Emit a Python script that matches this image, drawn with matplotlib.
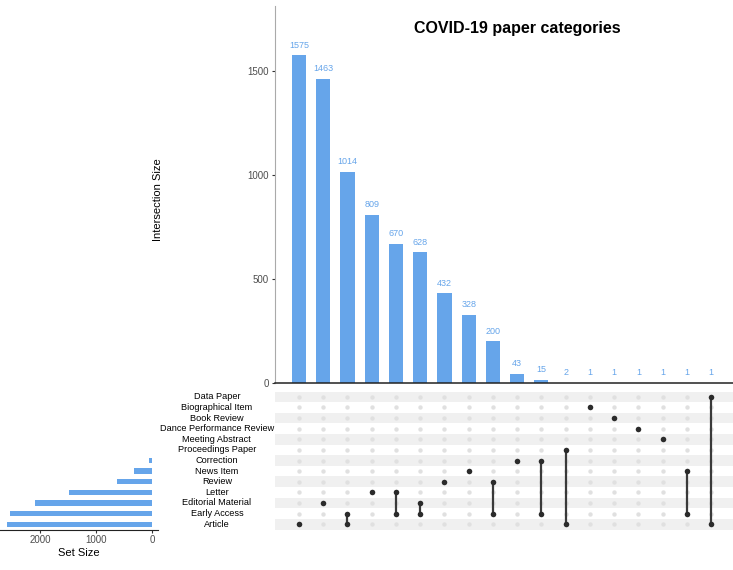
import matplotlib
matplotlib.use("Agg")
import matplotlib.pyplot as plt

plt.rcParams['font.family'] = ['Liberation Sans', 'DejaVu Sans']

# set names, top row first
set_names = ["Data Paper", "Biographical Item", "Book Review", "Dance Performance Review",
             "Meeting Abstract", "Proceedings Paper", "Correction", "News Item", "Review",
             "Letter", "Editorial Material", "Early Access", "Article"]
set_sizes = [1, 1, 1, 1, 1, 2, 58, 329, 632, 1479, 2091, 2528, 2592]

# intersections, in plotted order
inter_sizes = [1575, 1463, 1014, 809, 670, 628, 432, 328, 200, 43, 15, 2, 1, 1, 1, 1, 1, 1]
inter_sets = [
    ["Article"],
    ["Editorial Material"],
    ["Article", "Early Access"],
    ["Letter"],
    ["Letter", "Early Access"],
    ["Editorial Material", "Early Access"],
    ["Review"],
    ["News Item"],
    ["Review", "Early Access"],
    ["Correction"],
    ["Correction", "Early Access"],
    ["Proceedings Paper", "Article"],
    ["Biographical Item"],
    ["Book Review"],
    ["Dance Performance Review"],
    ["Meeting Abstract"],
    ["News Item", "Early Access"],
    ["Data Paper", "Article"],
]

bar_color = "#66a5ea"
W, H = 733, 570
fig = plt.figure(figsize=(W / 100, H / 100), dpi=100)

n_rows = len(set_names)
n_cols = len(inter_sizes)
xlim = (-0.99, n_cols - 1 + 0.9)
row_y = {name: n_rows - 1 - i for i, name in enumerate(set_names)}


def box(x0, y0, x1, y1):
    return [x0 / W, 1 - y1 / H, (x1 - x0) / W, (y1 - y0) / H]


# set sizes (added first so the labels sit on top)
ax_s = fig.add_axes(box(0, 391.5, 158, 529.5))
ax_s.patch.set_visible(False)
ax_s.barh([row_y[n] for n in set_names], set_sizes, height=0.5, color=bar_color)
ax_s.set_xlim(2714, -107)
ax_s.set_ylim(-0.5, n_rows - 0.5)
ax_s.set_xticks([2000, 1000, 0])
ax_s.set_yticks([])
ax_s.tick_params(axis="x", labelsize=7, length=2.5, color="#333333", labelcolor="#4d4d4d", pad=1.5)
for s in ["top", "right", "left"]:
    ax_s.spines[s].set_visible(False)
ax_s.spines["bottom"].set_color("#222222")
ax_s.set_xlabel("Set Size", fontsize=8, labelpad=2)

# intersection bars
ax_top = fig.add_axes(box(275, 6, 733, 383))
xs = list(range(n_cols))
ax_top.bar(xs, inter_sizes, width=0.58, color=bar_color)
for x, v in zip(xs, inter_sizes):
    ax_top.annotate(str(v), (x, v), xytext=(0, 4), textcoords="offset points",
                    ha="center", va="bottom", fontsize=6.5, color=bar_color)
ax_top.set_xlim(xlim)
ax_top.set_ylim(0, 1812)
ax_top.set_yticks([0, 500, 1000, 1500])
ax_top.set_xticks([])
ax_top.tick_params(axis="y", labelsize=7, length=2.5, color="#333333", labelcolor="#4d4d4d", pad=2)
for s in ["top", "right"]:
    ax_top.spines[s].set_visible(False)
ax_top.spines["left"].set_color("#aaaaaa")
ax_top.spines["bottom"].set_color("#222222")
ax_top.spines["bottom"].set_linewidth(1.1)
fig.text(158 / W, 1 - 200 / H, "Intersection Size", rotation=90, ha="center", va="center", fontsize=8)
fig.text(517 / W, 1 - 29 / H, "COVID-19 paper categories", ha="center", va="center",
         fontsize=11.5, fontweight="bold")

# matrix
ax_m = fig.add_axes(box(275, 391.5, 733, 529.5))
ax_m.patch.set_visible(False)
ax_m.set_xlim(xlim)
ax_m.set_ylim(-0.5, n_rows - 0.5)
for i in range(n_rows):
    if i % 2 == 0:
        ax_m.axhspan(n_rows - 1 - i - 0.5, n_rows - 1 - i + 0.5, color="#f0f0f0", lw=0, zorder=0)
for x in xs:
    ax_m.scatter([x] * n_rows, range(n_rows), s=10, color="#e0e0e0", lw=0, zorder=1)
for x, members in zip(xs, inter_sets):
    ys = [row_y[m] for m in members]
    if len(ys) > 1:
        ax_m.plot([x, x], [min(ys), max(ys)], color="#3a3a3a", lw=1.6, zorder=2)
    ax_m.scatter([x] * len(ys), ys, s=16, color="#2b2b2b", lw=0, zorder=3)
ax_m.axis("off")
for name in set_names:
    ax_m.text(-0.127, row_y[name], name, transform=ax_m.get_yaxis_transform(),
              ha="center", va="center", fontsize=6.6, clip_on=False)

fig.savefig("out.png", dpi=100)
